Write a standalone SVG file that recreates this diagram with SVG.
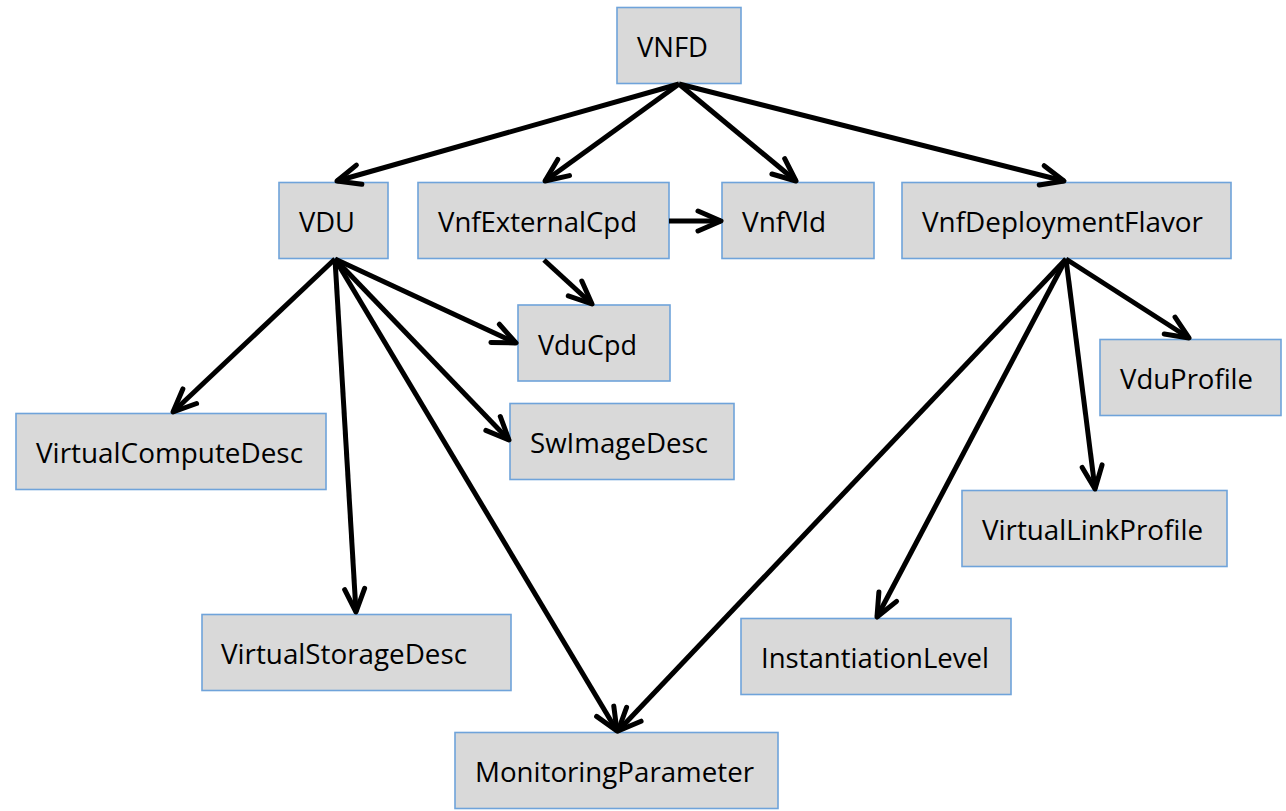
<svg xmlns="http://www.w3.org/2000/svg" width="1286" height="811" viewBox="0 0 1286 811">
  <style>
    .box { fill: #d9d9d9; stroke: #6fa3da; stroke-width: 1.6; }
    .lbl { font-family: "Open Sans", "Liberation Sans", sans-serif; font-size: 28px; fill: #000; }
    .edge { stroke: #000; stroke-width: 5; fill: none; marker-end: url(#arrow); }
  </style>
  <defs>
    <!-- open V arrowhead, sized in user units -->
    <marker id="arrow" markerUnits="userSpaceOnUse" viewBox="-30 -15 35 30" refX="0" refY="0" markerWidth="35" markerHeight="30" orient="auto" overflow="visible">
      <path d="M -23 -10 L 0 0 L -23 10" fill="none" stroke="#000" stroke-width="5" stroke-linecap="round" stroke-linejoin="round"/>
    </marker>
  </defs>

  <rect width="1286" height="811" fill="#fff"/>

  <g id="nodes">
    <g id="VNFD">
      <rect class="box" x="617" y="7.5" width="124" height="76"/>
      <text class="lbl" x="637" y="57" textLength="71" lengthAdjust="spacingAndGlyphs">VNFD</text>
    </g>
    <g id="VDU">
      <rect class="box" x="279" y="182.5" width="109" height="76"/>
      <text class="lbl" x="299" y="232" textLength="56" lengthAdjust="spacingAndGlyphs">VDU</text>
    </g>
    <g id="VnfExternalCpd">
      <rect class="box" x="418" y="182.5" width="251" height="76"/>
      <text class="lbl" x="438" y="232" textLength="199" lengthAdjust="spacingAndGlyphs">VnfExternalCpd</text>
    </g>
    <g id="VnfVld">
      <rect class="box" x="722" y="182.5" width="152" height="76"/>
      <text class="lbl" x="742" y="232" textLength="84" lengthAdjust="spacingAndGlyphs">VnfVld</text>
    </g>
    <g id="VnfDeploymentFlavor">
      <rect class="box" x="902" y="182.5" width="329" height="76"/>
      <text class="lbl" x="922" y="232" textLength="281" lengthAdjust="spacingAndGlyphs">VnfDeploymentFlavor</text>
    </g>
    <g id="VduCpd">
      <rect class="box" x="518" y="305" width="152" height="76"/>
      <text class="lbl" x="538" y="354.5" textLength="99" lengthAdjust="spacingAndGlyphs">VduCpd</text>
    </g>
    <g id="VduProfile">
      <rect class="box" x="1100" y="339.5" width="181" height="76"/>
      <text class="lbl" x="1120" y="389" textLength="133" lengthAdjust="spacingAndGlyphs">VduProfile</text>
    </g>
    <g id="SwImageDesc">
      <rect class="box" x="510" y="403.5" width="224" height="76"/>
      <text class="lbl" x="530" y="453" textLength="178" lengthAdjust="spacingAndGlyphs">SwImageDesc</text>
    </g>
    <g id="VirtualComputeDesc">
      <rect class="box" x="16" y="413.5" width="310" height="76"/>
      <text class="lbl" x="36" y="463" textLength="267" lengthAdjust="spacingAndGlyphs">VirtualComputeDesc</text>
    </g>
    <g id="VirtualLinkProfile">
      <rect class="box" x="962" y="490.5" width="265" height="76"/>
      <text class="lbl" x="982" y="540" textLength="221" lengthAdjust="spacingAndGlyphs">VirtualLinkProfile</text>
    </g>
    <g id="VirtualStorageDesc">
      <rect class="box" x="202" y="614.5" width="309" height="76"/>
      <text class="lbl" x="221" y="664" textLength="246" lengthAdjust="spacingAndGlyphs">VirtualStorageDesc</text>
    </g>
    <g id="InstantiationLevel">
      <rect class="box" x="741" y="618.5" width="270" height="76"/>
      <text class="lbl" x="761" y="668" textLength="228" lengthAdjust="spacingAndGlyphs">InstantiationLevel</text>
    </g>
    <g id="MonitoringParameter">
      <rect class="box" x="455" y="732.5" width="323" height="76"/>
      <text class="lbl" x="475" y="782" textLength="279" lengthAdjust="spacingAndGlyphs">MonitoringParameter</text>
    </g>
  </g>

  <g id="connectors">
    <!-- from VNFD -->
    <line class="edge" x1="679" y1="84" x2="337" y2="181"/>
    <line class="edge" x1="679" y1="84" x2="545" y2="181"/>
    <line class="edge" x1="679" y1="84" x2="796" y2="181"/>
    <line class="edge" x1="679" y1="84" x2="1064" y2="181"/>
    <!-- from VnfExternalCpd -->
    <line class="edge" x1="669" y1="221" x2="721" y2="221"/>
    <line class="edge" x1="544" y1="260" x2="592" y2="304"/>
    <!-- from VDU -->
    <line class="edge" x1="335" y1="259" x2="516" y2="343"/>
    <line class="edge" x1="335" y1="259" x2="173" y2="412"/>
    <line class="edge" x1="335" y1="259" x2="356" y2="612"/>
    <line class="edge" x1="335" y1="259" x2="509" y2="440"/>
    <line class="edge" x1="335" y1="259" x2="617" y2="731"/>
    <!-- from VnfDeploymentFlavor -->
    <line class="edge" x1="1066" y1="259" x2="1189" y2="338"/>
    <line class="edge" x1="1066" y1="259" x2="1095" y2="489"/>
    <line class="edge" x1="1066" y1="259" x2="877" y2="617"/>
    <line class="edge" x1="1066" y1="259" x2="618" y2="731"/>
  </g>
</svg>
